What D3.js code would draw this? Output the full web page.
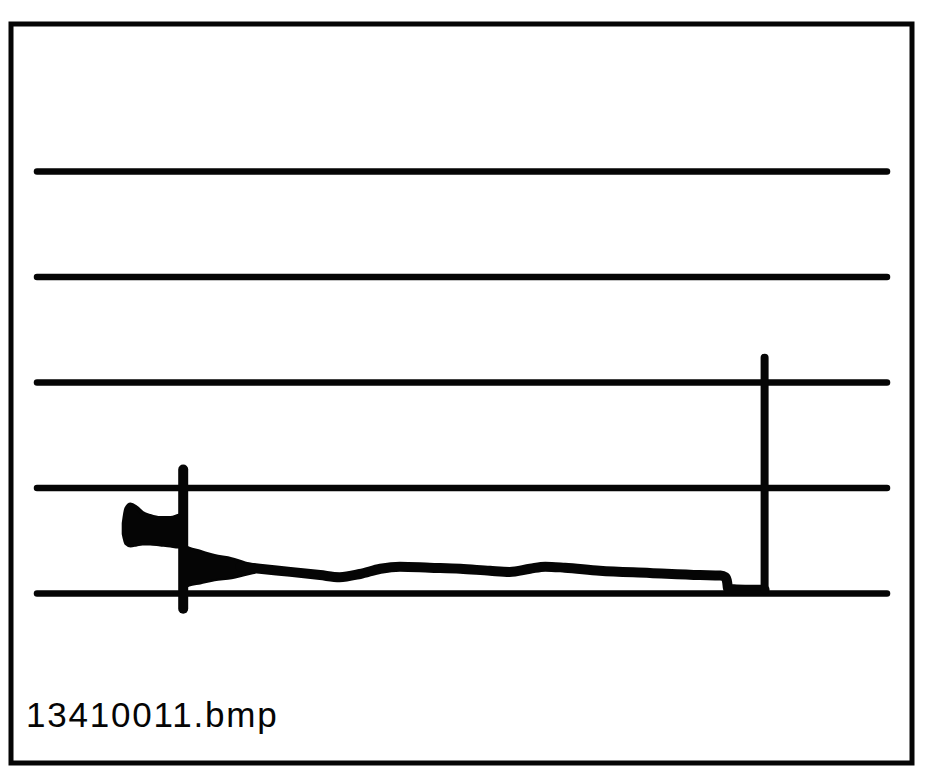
<!DOCTYPE html>
<html>
<head>
<meta charset="utf-8">
<script src="https://cdn.jsdelivr.net/npm/d3@7"></script>
<style>
  html, body { margin: 0; padding: 0; background: #fff; }
  svg { display: block; }
</style>
</head>
<body>
<script>
// ---- data (time in % of sweep, amplitude in grid divisions) ----
const gridDivisions = [0, 1, 2, 3, 4];

// pre-trigger noise burst envelope
const burstT  = [10.2, 10.5, 11.0, 11.7, 12.4, 13.3, 14.5, 15.7, 16.6, 17.3];
const burstHi = [0.66, 0.80, 0.84, 0.81, 0.76, 0.73, 0.71, 0.71, 0.73, 0.75];
const burstLo = [0.56, 0.47, 0.45, 0.46, 0.47, 0.47, 0.46, 0.45, 0.44, 0.44];

// first spike (trigger)
const spike1T = [17.2, 17.2];
const spike1V = [1.17, -0.15];

// ringing after the spike (envelope)
const ringT  = [17.6, 17.9, 19.2, 20.9, 22.9, 24.5, 25.6];
const ringHi = [0.44, 0.43, 0.40, 0.36, 0.33, 0.29, 0.27];
const ringLo = [0.06, 0.07, 0.09, 0.12, 0.14, 0.17, 0.19];

// main trace
const traceT = [23.9, 26.2, 29.8, 33.3, 35.6, 38.0, 40.4, 42.7, 46.2, 49.8, 53.3, 55.6, 58.0, 59.8, 62.1, 66.2, 72.1, 78.0, 80.4, 81.0, 81.2, 81.3, 83.3, 85.6];
const traceV = [0.25, 0.23, 0.20, 0.17, 0.15, 0.18, 0.23, 0.25, 0.24, 0.23, 0.21, 0.20, 0.23, 0.25, 0.24, 0.21, 0.19, 0.17, 0.165, 0.15, 0.10, 0.04, 0.03, 0.03];

// second spike
const spike2T = [85.6, 85.6];
const spike2V = [0.03, 2.23];

const fileLabel = "13410011.bmp";

// ---- drawing ----
const W = 930, H = 783;
const ink = "#050505";
const svg = d3.select("body").append("svg").attr("width", W).attr("height", H);

const x = d3.scaleLinear().domain([0, 100]).range([37, 887]);
const y = d3.scaleLinear().domain([0, 4]).range([593, 171]);

// frame
svg.append("rect")
  .attr("x", 11).attr("y", 24).attr("width", 901).attr("height", 739)
  .attr("fill", "none").attr("stroke", ink).attr("stroke-width", 5);

// grid lines via axis
const gAxis = svg.append("g")
  .attr("transform", `translate(${x.range()[0]},0)`)
  .call(d3.axisLeft(y).tickValues(gridDivisions).tickSize(-(x.range()[1] - x.range()[0])).tickFormat(""));
gAxis.select(".domain").remove();
gAxis.selectAll(".tick line")
  .attr("stroke", ink).attr("stroke-width", 6.5).attr("stroke-linecap", "round");

// burst envelope
const burst = burstT.map((t, i) => ({t, hi: burstHi[i], lo: burstLo[i]}));
svg.append("path")
  .datum(burst)
  .attr("d", d3.area().x(d => x(d.t)).y0(d => y(d.lo)).y1(d => y(d.hi)).curve(d3.curveMonotoneX))
  .attr("fill", ink).attr("stroke", ink).attr("stroke-width", 4).attr("stroke-linejoin", "round");

// ringing envelope
const ring = ringT.map((t, i) => ({t, hi: ringHi[i], lo: ringLo[i]}));
svg.append("path")
  .datum(ring)
  .attr("d", d3.area().x(d => x(d.t)).y0(d => y(d.lo)).y1(d => y(d.hi)).curve(d3.curveMonotoneX))
  .attr("fill", ink).attr("stroke", ink).attr("stroke-width", 2);

const line = d3.line().x(d => x(d[0])).y(d => y(d[1]));

// main trace
svg.append("path")
  .datum(traceT.map((t, i) => [t, traceV[i]]))
  .attr("d", line.curve(d3.curveMonotoneX))
  .attr("fill", "none").attr("stroke", ink).attr("stroke-width", 10)
  .attr("stroke-linejoin", "round").attr("stroke-linecap", "round");

// spikes
const straight = d3.line().x(d => x(d[0])).y(d => y(d[1]));
svg.append("path")
  .datum(spike1T.map((t, i) => [t, spike1V[i]]))
  .attr("d", straight)
  .attr("fill", "none").attr("stroke", ink).attr("stroke-width", 10).attr("stroke-linecap", "round");
svg.append("path")
  .datum(spike2T.map((t, i) => [t, spike2V[i]]))
  .attr("d", straight)
  .attr("fill", "none").attr("stroke", ink).attr("stroke-width", 8).attr("stroke-linecap", "round");

// label
svg.append("text")
  .attr("x", 26).attr("y", 727)
  .attr("font-family", "'Liberation Sans', Arial, Helvetica, sans-serif")
  .attr("font-size", 35)
  .attr("letter-spacing", 1.8)
  .attr("fill", ink)
  .text(fileLabel);
</script>
</body>
</html>
